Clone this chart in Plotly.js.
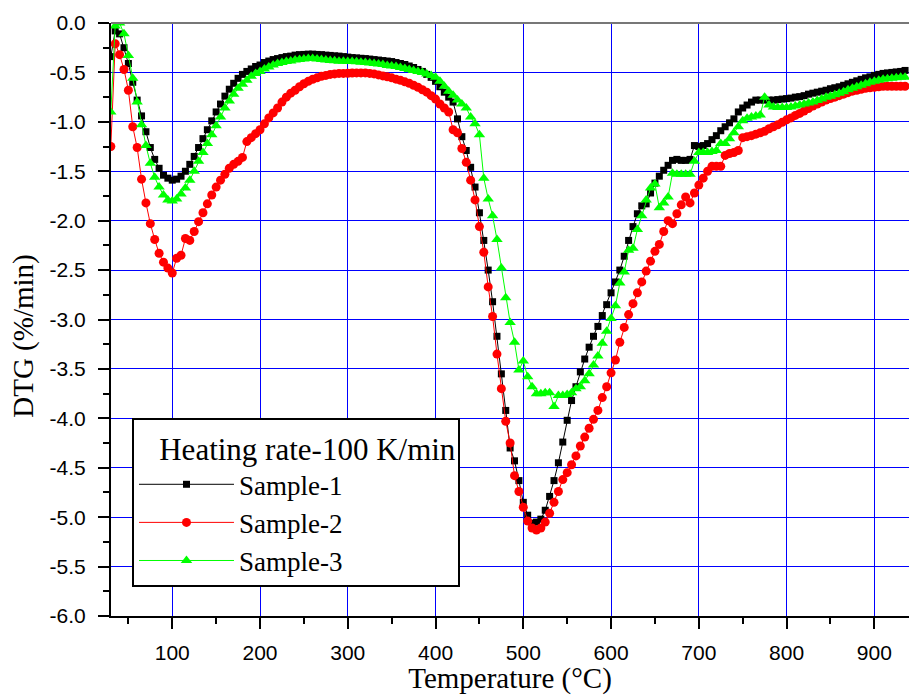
<!DOCTYPE html>
<html>
<head>
<meta charset="utf-8">
<script src="https://cdn.plot.ly/plotly-3.0.1.min.js"></script>
<style>html,body{margin:0;padding:0;background:#fff;}#chart{width:909px;height:695px;}</style>
</head>
<body>
<div id="chart"></div>
<script>
// Temperature (°C) sampling points
var temperature = [30,35,40,45,50,55,60,65,70,75,80,85,90,95,100,105,110,115,120,125,130,135,140,145,150,155,160,165,170,175,180,185,190,195,200,205,210,215,220,225,230,235,240,245,250,255,260,265,270,275,280,285,290,295,300,305,310,315,320,325,330,335,340,345,350,355,360,365,370,375,380,385,390,395,400,405,410,415,420,425,430,435,440,445,450,455,460,465,470,475,480,485,490,495,500,505,510,515,520,525,530,535,540,545,550,555,560,565,570,575,580,585,590,595,600,605,610,615,620,625,630,635,640,645,650,655,660,665,670,675,680,685,690,695,700,705,710,715,720,725,730,735,740,745,750,755,760,765,770,775,780,785,790,795,800,805,810,815,820,825,830,835,840,845,850,855,860,865,870,875,880,885,890,895,900,905,910,915,920,925,930,935];

// DTG (%/min) — Sample-1
var sample1 = [-0.34,-0.08,-0.11,-0.25,-0.41,-0.60,-0.78,-0.94,-1.10,-1.26,-1.38,-1.47,-1.54,-1.57,-1.59,-1.58,-1.55,-1.50,-1.43,-1.35,-1.26,-1.17,-1.08,-0.99,-0.90,-0.82,-0.74,-0.67,-0.61,-0.56,-0.52,-0.49,-0.465,-0.44,-0.425,-0.40,-0.385,-0.37,-0.36,-0.35,-0.34,-0.335,-0.325,-0.32,-0.318,-0.315,-0.315,-0.318,-0.32,-0.325,-0.328,-0.332,-0.335,-0.34,-0.345,-0.35,-0.353,-0.357,-0.36,-0.365,-0.37,-0.375,-0.38,-0.385,-0.39,-0.40,-0.41,-0.42,-0.435,-0.45,-0.47,-0.49,-0.52,-0.55,-0.59,-0.645,-0.70,-0.75,-0.80,-0.97,-1.15,-1.29,-1.46,-1.66,-1.92,-2.20,-2.50,-2.82,-3.17,-3.55,-3.92,-4.30,-4.43,-4.63,-4.85,-4.98,-5.06,-5.05,-5.02,-4.93,-4.79,-4.63,-4.45,-4.24,-4.02,-3.82,-3.68,-3.53,-3.40,-3.28,-3.17,-3.07,-2.96,-2.85,-2.73,-2.62,-2.50,-2.36,-2.20,-2.06,-1.93,-1.85,-1.83,-1.72,-1.62,-1.55,-1.49,-1.44,-1.39,-1.38,-1.39,-1.39,-1.38,-1.24,-1.25,-1.24,-1.22,-1.18,-1.14,-1.09,-1.05,-1.01,-0.97,-0.90,-0.86,-0.83,-0.80,-0.78,-0.78,-0.78,-0.78,-0.78,-0.775,-0.77,-0.765,-0.76,-0.75,-0.745,-0.735,-0.72,-0.71,-0.70,-0.69,-0.68,-0.665,-0.655,-0.645,-0.63,-0.615,-0.60,-0.585,-0.57,-0.555,-0.545,-0.53,-0.52,-0.51,-0.505,-0.50,-0.495,-0.49,-0.48];

// DTG (%/min) — Sample-2
var sample2 = [-1.25,-0.21,-0.32,-0.47,-0.68,-1.05,-1.26,-1.58,-1.82,-2.03,-2.19,-2.33,-2.42,-2.48,-2.53,-2.38,-2.35,-2.18,-2.20,-2.11,-2.01,-1.92,-1.83,-1.74,-1.66,-1.59,-1.53,-1.47,-1.43,-1.40,-1.36,-1.20,-1.16,-1.12,-1.08,-1.02,-0.96,-0.91,-0.86,-0.80,-0.75,-0.71,-0.68,-0.645,-0.615,-0.59,-0.57,-0.555,-0.54,-0.53,-0.52,-0.515,-0.51,-0.51,-0.508,-0.506,-0.505,-0.505,-0.505,-0.51,-0.515,-0.525,-0.535,-0.545,-0.555,-0.568,-0.58,-0.595,-0.61,-0.63,-0.65,-0.675,-0.70,-0.735,-0.77,-0.82,-0.86,-0.90,-1.08,-1.11,-1.27,-1.41,-1.59,-1.79,-2.06,-2.32,-2.67,-2.97,-3.35,-3.70,-4.03,-4.25,-4.58,-4.74,-4.90,-5.04,-5.11,-5.13,-5.11,-5.05,-4.96,-4.85,-4.74,-4.62,-4.55,-4.47,-4.38,-4.28,-4.19,-4.10,-4.01,-3.92,-3.79,-3.68,-3.54,-3.41,-3.23,-3.08,-2.95,-2.84,-2.73,-2.62,-2.51,-2.41,-2.31,-2.24,-2.11,-2.00,-2.03,-1.93,-1.84,-1.76,-1.82,-1.72,-1.64,-1.57,-1.50,-1.45,-1.45,-1.45,-1.34,-1.32,-1.31,-1.29,-1.16,-1.15,-1.14,-1.125,-1.11,-1.095,-1.07,-1.05,-1.03,-1.005,-0.98,-0.96,-0.935,-0.915,-0.89,-0.865,-0.84,-0.82,-0.80,-0.78,-0.765,-0.75,-0.735,-0.72,-0.705,-0.69,-0.68,-0.67,-0.66,-0.655,-0.65,-0.645,-0.64,-0.64,-0.64,-0.64,-0.64,-0.64];

// DTG (%/min) — Sample-3
var sample3 = [-0.90,-0.03,0.0,-0.11,-0.33,-0.56,-0.80,-1.03,-1.24,-1.42,-1.56,-1.66,-1.74,-1.79,-1.80,-1.78,-1.73,-1.67,-1.59,-1.50,-1.40,-1.31,-1.22,-1.13,-1.04,-0.95,-0.86,-0.79,-0.72,-0.66,-0.62,-0.58,-0.54,-0.51,-0.49,-0.465,-0.445,-0.425,-0.41,-0.40,-0.39,-0.385,-0.375,-0.37,-0.365,-0.36,-0.36,-0.365,-0.37,-0.375,-0.38,-0.383,-0.386,-0.388,-0.39,-0.39,-0.393,-0.396,-0.40,-0.405,-0.41,-0.415,-0.42,-0.43,-0.435,-0.44,-0.45,-0.46,-0.47,-0.48,-0.49,-0.50,-0.515,-0.53,-0.55,-0.59,-0.64,-0.69,-0.73,-0.78,-0.82,-0.86,-0.95,-1.02,-1.13,-1.57,-1.78,-1.95,-2.19,-2.48,-2.78,-3.03,-3.23,-3.51,-3.42,-3.58,-3.68,-3.75,-3.75,-3.74,-3.74,-3.88,-3.77,-3.77,-3.76,-3.74,-3.70,-3.68,-3.62,-3.55,-3.46,-3.37,-3.24,-3.12,-2.99,-2.86,-2.63,-2.52,-2.30,-2.28,-2.09,-1.95,-1.79,-1.67,-1.63,-1.87,-1.82,-1.76,-1.52,-1.53,-1.53,-1.53,-1.53,-1.40,-1.31,-1.31,-1.31,-1.30,-1.29,-1.22,-1.22,-1.17,-1.11,-1.05,-0.99,-0.965,-0.95,-0.94,-0.93,-0.75,-0.83,-0.85,-0.855,-0.855,-0.855,-0.85,-0.84,-0.83,-0.82,-0.81,-0.80,-0.785,-0.77,-0.75,-0.74,-0.725,-0.71,-0.695,-0.675,-0.66,-0.645,-0.63,-0.615,-0.60,-0.59,-0.58,-0.57,-0.565,-0.56,-0.555,-0.55,-0.55];

var seriesNames = ["Sample-1", "Sample-2", "Sample-3"];
var legendTitle = "Heating rate-100 K/min";
var xTitle = "Temperature (°C)";
var yTitle = "DTG (%/min)";
var xTickVals = [100,200,300,400,500,600,700,800,900];
var xTickText = ["100","200","300","400","500","600","700","800","900"];
var yTickVals = [0,-0.5,-1,-1.5,-2,-2.5,-3,-3.5,-4,-4.5,-5,-5.5,-6];
var yTickText = ["0.0","-0.5","-1.0","-1.5","-2.0","-2.5","-3.0","-3.5","-4.0","-4.5","-5.0","-5.5","-6.0"];

var serif = "Liberation Serif, Times New Roman, serif";
var sans = "Liberation Sans, Arial, sans-serif";

var traces = [
  {x: temperature, y: sample1, name: seriesNames[0], type: "scatter", mode: "lines+markers",
   line: {color: "#000000", width: 1},
   marker: {symbol: "square", size: 7, color: "#000000"}},
  {x: temperature, y: sample2, name: seriesNames[1], type: "scatter", mode: "lines+markers",
   line: {color: "#ff0000", width: 1},
   marker: {symbol: "circle", size: 9, color: "#ff0000"}},
  {x: temperature, y: sample3, name: seriesNames[2], type: "scatter", mode: "lines+markers",
   line: {color: "#00ff00", width: 1},
   marker: {symbol: "triangle-up", size: 10, color: "#00ff00"}}
];

var layout = {
  width: 909, height: 695,
  margin: {l: 111, r: 0, t: 23, b: 79, pad: 0},
  paper_bgcolor: "#ffffff", plot_bgcolor: "#ffffff",
  showlegend: true,
  legend: {
    x: 0.0263, y: 0.334, xanchor: "left", yanchor: "top",
    bgcolor: "#ffffff", bordercolor: "#000000", borderwidth: 2,
    font: {family: serif, size: 27, color: "#000"},
    title: {text: "\u00a0\u00a0\u00a0" + legendTitle, font: {family: serif, size: 31, color: "#000"}},
    itemwidth: 95, tracegroupgap: 0
  },
  xaxis: {
    range: [30.2, 939.5], autorange: false,
    tickvals: xTickVals, ticktext: xTickText,
    ticks: "outside", ticklen: 11, tickwidth: 2, tickcolor: "#000",
    showline: true, linecolor: "#000", linewidth: 2, mirror: false,
    showgrid: true, gridcolor: "#0000ff", gridwidth: 1,
    zeroline: false,
    tickfont: {family: sans, size: 21, color: "#000"},
    ticklabelstandoff: 6,
    minor: {dtick: 50, tick0: 0, ticks: "outside", ticklen: 6, tickwidth: 2, tickcolor: "#000", showgrid: false},
    title: {text: xTitle, font: {family: serif, size: 29, color: "#000"}, standoff: 8}
  },
  yaxis: {
    range: [-6, 0], autorange: false,
    tickvals: yTickVals, ticktext: yTickText,
    ticks: "outside", ticklen: 11, tickwidth: 2, tickcolor: "#000",
    showline: true, linecolor: "#000", linewidth: 2, mirror: false,
    showgrid: true, gridcolor: "#0000ff", gridwidth: 1,
    zeroline: false,
    tickfont: {family: sans, size: 21, color: "#000"},
    ticklabelstandoff: 8,
    minor: {dtick: 0.25, tick0: 0, ticks: "outside", ticklen: 6, tickwidth: 2, tickcolor: "#000", showgrid: false}
  },
  annotations: [
    {text: yTitle, xref: "paper", yref: "paper", x: -0.110, y: 0.473, xanchor: "center", yanchor: "middle",
     textangle: -90, showarrow: false, font: {family: serif, size: 29, color: "#000"}}
  ],
  shapes: [
    {type: "line", xref: "paper", yref: "paper", x0: 0, x1: 1, y0: 1, y1: 1, line: {color: "#777777", width: 2}}
  ]
};

Plotly.newPlot("chart", traces, layout, {displayModeBar: false, staticPlot: true});
</script>
</body>
</html>
